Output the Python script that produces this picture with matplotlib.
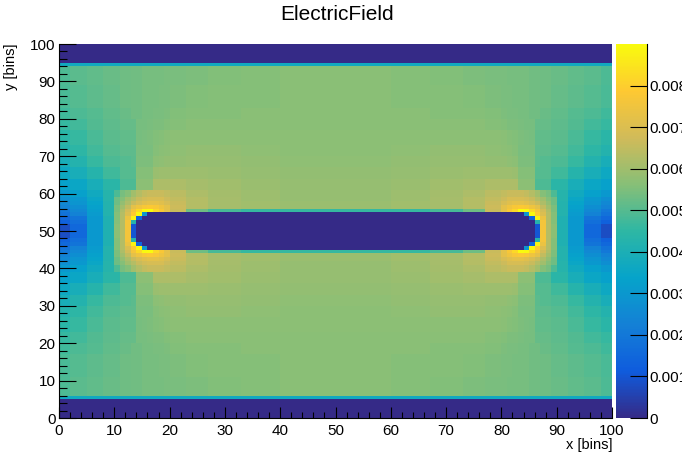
import numpy as np
import matplotlib
matplotlib.use("Agg")
import matplotlib.pyplot as plt
from matplotlib.colors import LinearSegmentedColormap
from matplotlib.transforms import Bbox

plt.rcParams['font.family'] = ['Liberation Sans', 'DejaVu Sans']

# bin edges of the upper left quarter, the field is mirrored in x and y
x_edges_left = [0, 2, 5, 8, 10, 11, 12, 13, 14, 15, 16, 17, 18, 19, 20, 23, 27, 33, 40, 50]
y_edges_upper = [50, 52, 53, 54, 55, 56, 57, 58, 59, 61, 64, 67, 70, 73, 77, 80, 83, 89, 94, 95, 100]

# field in units of 1e-3, one row per y band (y=50 upwards), one value per x band
field_upper_left = [
    [0.8, 1.5, 3.0, 4.1, 5.7, 6.3, 7.6, 1.0, 0, 0, 0, 0, 0, 0, 0, 0, 0, 0, 0],
    [1.3, 1.7, 3.0, 4.1, 5.6, 6.3, 7.6, 4.3, 0, 0, 0, 0, 0, 0, 0, 0, 0, 0, 0],
    [1.5, 1.9, 3.0, 4.1, 5.6, 6.3, 7.4, 8.8, 1.4, 0, 0, 0, 0, 0, 0, 0, 0, 0, 0],
    [1.8, 2.3, 3.1, 4.2, 5.6, 6.3, 7.0, 7.9, 8.9, 2.9, 0, 0, 0, 0, 0, 0, 0, 0, 0],
    [2.0, 2.5, 3.2, 4.2, 5.5, 6.2, 6.8, 7.6, 8.2, 8.9, 9.0, 8.2, 7.7, 7.2, 6.6, 5.3, 4.8, 4.6, 4.6],
    [2.3, 2.7, 3.3, 4.2, 5.5, 6.0, 6.5, 7.2, 7.5, 7.7, 7.8, 7.7, 7.5, 7.2, 6.7, 6.3, 6.1, 6.0, 5.9],
    [2.5, 2.9, 3.4, 4.2, 5.3, 5.8, 6.2, 6.6, 6.9, 7.1, 7.2, 7.2, 7.1, 6.9, 6.6, 6.3, 6.1, 6.0, 5.9],
    [2.7, 3.0, 3.5, 4.3, 5.3, 5.6, 6.0, 6.3, 6.6, 6.8, 6.9, 6.9, 6.9, 6.7, 6.5, 6.3, 6.1, 5.95, 5.85],
    [3.0, 3.3, 3.7, 4.3, 4.9, 5.4, 5.6, 6.0, 6.3, 6.5, 6.6, 6.6, 6.6, 6.5, 6.4, 6.2, 6.05, 5.95, 5.85],
    [3.3, 3.5, 3.9, 4.4, 4.4, 4.9, 4.9, 4.9, 5.7, 5.7, 5.7, 6.2, 6.2, 6.2, 6.2, 6.1, 6.0, 5.9, 5.85],
    [3.6, 3.9, 4.3, 4.7, 4.7, 5.0, 5.0, 5.0, 5.6, 5.6, 5.6, 5.9, 5.95, 5.95, 5.95, 5.95, 5.9, 5.85, 5.8],
    [3.9, 4.2, 4.6, 4.9, 4.9, 5.0, 5.0, 5.05, 5.5, 5.5, 5.5, 5.7, 5.75, 5.8, 5.8, 5.85, 5.85, 5.8, 5.75],
    [4.2, 4.45, 4.75, 5.0, 5.0, 5.1, 5.1, 5.1, 5.45, 5.45, 5.45, 5.6, 5.65, 5.7, 5.75, 5.8, 5.8, 5.75, 5.7],
    [4.4, 4.6, 4.85, 5.05, 5.05, 5.15, 5.15, 5.15, 5.4, 5.45, 5.5, 5.55, 5.6, 5.65, 5.7, 5.7, 5.7, 5.7, 5.7],
    [4.6, 4.75, 4.95, 5.1, 5.1, 5.2, 5.2, 5.2, 5.4, 5.4, 5.45, 5.5, 5.5, 5.55, 5.6, 5.65, 5.65, 5.65, 5.65],
    [4.7, 4.9, 5.0, 5.15, 5.15, 5.25, 5.25, 5.35, 5.35, 5.4, 5.4, 5.45, 5.45, 5.5, 5.55, 5.6, 5.6, 5.65, 5.65],
    [4.85, 5.0, 5.1, 5.2, 5.2, 5.3, 5.3, 5.35, 5.35, 5.4, 5.4, 5.4, 5.45, 5.45, 5.5, 5.55, 5.6, 5.6, 5.65],
    [4.9, 5.05, 5.15, 5.25, 5.25, 5.3, 5.3, 5.35, 5.35, 5.4, 5.4, 5.4, 5.4, 5.45, 5.45, 5.5, 5.55, 5.6, 5.65],
    [3.7, 3.7, 3.7, 3.7, 3.7, 3.7, 3.7, 3.7, 3.7, 3.7, 3.7, 3.7, 3.7, 3.7, 3.7, 3.7, 3.7, 3.7, 3.7],
    [0, 0, 0, 0, 0, 0, 0, 0, 0, 0, 0, 0, 0, 0, 0, 0, 0, 0, 0],
]

x_ticks = [0, 10, 20, 30, 40, 50, 60, 70, 80, 90, 100]
y_ticks = [0, 10, 20, 30, 40, 50, 60, 70, 80, 90, 100]
z_ticks = [0, 0.001, 0.002, 0.003, 0.004, 0.005, 0.006, 0.007, 0.008]
z_labels = ['0', '0.001', '0.002', '0.003', '0.004', '0.005', '0.006', '0.007', '0.008']
z_max = 0.009

# ROOT kBird palette
bird_colours = [
    (0.2082, 0.1664, 0.5293), (0.0592, 0.3599, 0.8684), (0.0780, 0.5041, 0.8385),
    (0.0232, 0.6419, 0.7914), (0.1802, 0.7178, 0.6425), (0.5301, 0.7492, 0.4662),
    (0.8186, 0.7328, 0.3499), (0.9956, 0.7862, 0.1968), (0.9764, 0.9832, 0.0539),
]
bird = LinearSegmentedColormap.from_list('bird', bird_colours, N=255)

# mirror the quarter into the full plane
x_left = np.array(x_edges_left, dtype=float)
y_upper = np.array(y_edges_upper, dtype=float)
x_edges = np.concatenate([x_left, 100 - x_left[-2::-1]])
y_edges = np.concatenate([100 - y_upper[:0:-1], y_upper])
upper = np.array(field_upper_left) * 1e-3
upper = np.hstack([upper, upper[:, ::-1]])
field = np.vstack([upper[::-1], upper])

W, H = 690, 454
fig = plt.figure(figsize=(W / 100, H / 100), dpi=100)
ax = fig.add_axes([59 / W, (H - 418) / H, 553 / W, 374 / H])
cax = fig.add_axes([616 / W, (H - 418) / H, 31 / W, 374 / H])

mesh = ax.pcolormesh(x_edges, y_edges, field, cmap=bird, vmin=0, vmax=z_max, rasterized=True)
ax.set_xlim(0, 100)
ax.set_ylim(0, 100)

ax.set_xticks(x_ticks)
ax.set_yticks(y_ticks)
ax.set_xticks(np.arange(0, 101, 2), minor=True)
ax.set_yticks(np.arange(0, 101, 2), minor=True)
ax.tick_params(axis='x', which='major', direction='in', length=8, width=0.8, labelsize=11, pad=4)
ax.tick_params(axis='x', which='minor', direction='in', length=4, width=0.8)
ax.tick_params(axis='y', which='major', direction='in', length=12, width=0.8, labelsize=11, pad=2.5)
ax.tick_params(axis='y', which='minor', direction='in', length=6, width=0.8)
ax.spines['top'].set_visible(False)
ax.spines['right'].set_visible(False)
ax.spines['left'].set_linewidth(0.8)
ax.spines['bottom'].set_linewidth(0.8)

cb = fig.colorbar(mesh, cax=cax)
cb.outline.set_visible(False)
cax.spines['right'].set_visible(True)
cb.set_ticks(z_ticks)
cb.set_ticklabels(z_labels)
cax.minorticks_off()
cax.tick_params(axis='y', direction='in', length=12, width=0.8, labelsize=11, pad=2, right=True, left=False)

# the reference cuts the colour scale labels off at its right border
label_clip = Bbox.from_extents(0, 0, 682, H)
for label in cax.get_yticklabels():
    label.set_clip_box(label_clip)
    label.set_clip_on(True)

fig.text(337 / W, 1 - 14 / H, 'ElectricField', ha='center', va='center', fontsize=15)
fig.text(612 / W, 1 - 445 / H, 'x [bins]', ha='right', va='center', fontsize=10.5)
fig.text(11 / W, 1 - 44 / H, 'y [bins]', ha='center', va='top', rotation=90, fontsize=10.5)

fig.savefig('out.png', dpi=100)
